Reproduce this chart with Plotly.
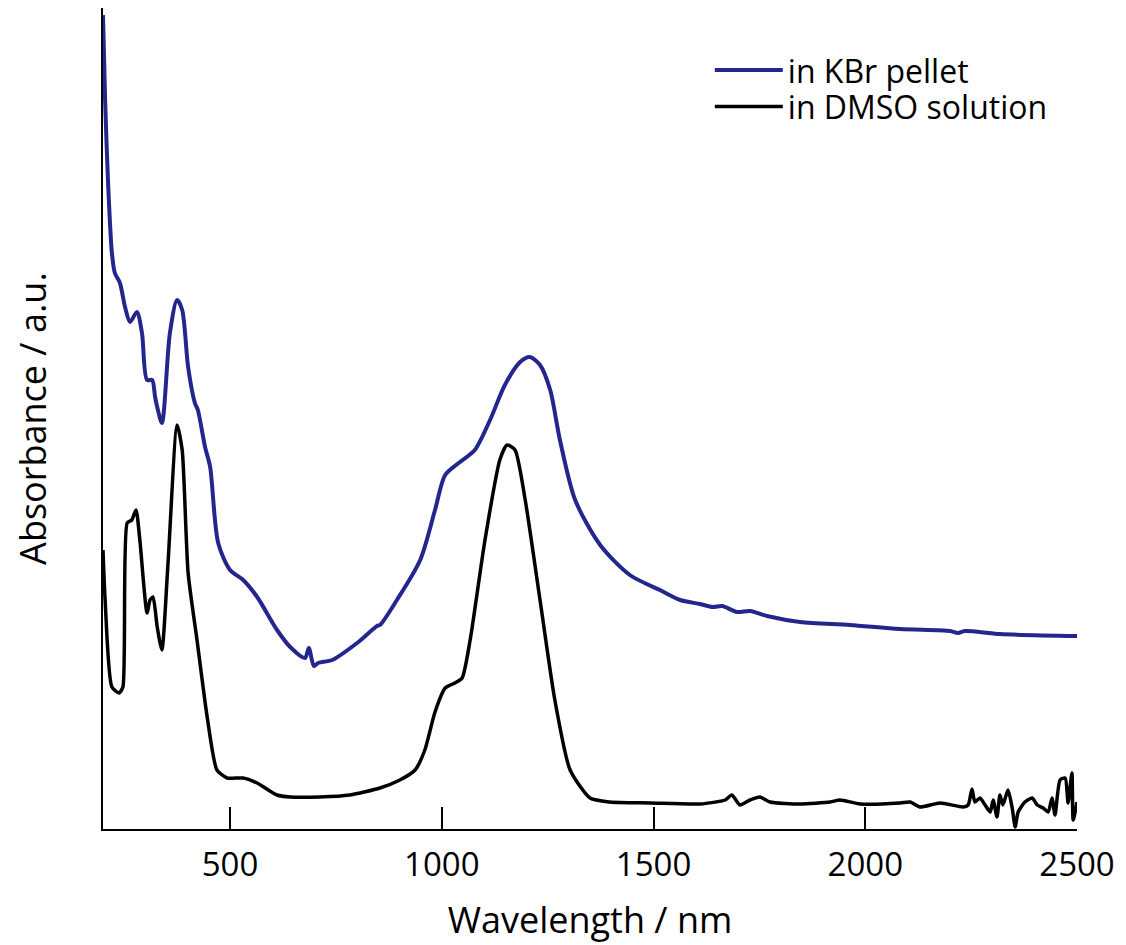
import plotly.graph_objects as go

# KBr pellet spectrum (wavelength nm, absorbance a.u.)
kbr_wl = [200, 205, 212, 221, 228, 240, 252, 264, 280, 292, 304, 316, 323, 328, 339,
          358, 375, 387, 401, 417, 424, 441, 453, 472, 500, 531, 564, 611, 642, 677,
          686, 698, 708, 741, 800, 847, 854, 894, 949, 984, 1008, 1043, 1078, 1114,
          1149, 1185, 1208, 1232, 1256, 1279, 1315, 1374, 1444, 1515, 1563, 1610,
          1640, 1662, 1697, 1728, 1768, 1846, 1964, 2082, 2200, 2219, 2235, 2318, 2500]
kbr_abs = [8.14, 7.29, 6.46, 5.76, 5.56, 5.46, 5.22, 5.07, 5.17, 4.96, 4.49, 4.49, 4.32, 4.22, 4.06,
           4.96, 5.29, 5.19, 4.62, 4.26, 4.19, 3.82, 3.62, 2.86, 2.59, 2.49, 2.32, 1.99, 1.82, 1.71,
           1.81, 1.63, 1.66, 1.69, 1.86, 2.03, 2.04, 2.29, 2.69, 3.19, 3.54, 3.67, 3.79, 4.09,
           4.44, 4.67, 4.72, 4.64, 4.39, 3.89, 3.29, 2.84, 2.54, 2.39, 2.29, 2.25,
           2.22, 2.23, 2.17, 2.18, 2.13, 2.07, 2.04, 2.00, 1.98, 1.96, 1.98, 1.95, 1.93]

# DMSO solution spectrum
dmso_wl = [200, 205, 221, 238, 247, 257, 268, 278, 287, 304, 311, 318, 328, 339, 353,
           375, 387, 401, 422, 446, 469, 493, 531, 564, 611, 642, 712, 783, 854, 901,
           937, 960, 984, 1008, 1031, 1048, 1067, 1102, 1137, 1154, 1173, 1197, 1232,
           1267, 1303, 1350, 1397, 1492, 1610, 1669, 1685, 1704, 1728, 1751, 1775, 1846,
           1917, 1940, 1988, 2082, 2106, 2129, 2177, 2231, 2243, 2252, 2259, 2271, 2283,
           2295, 2302, 2311, 2318, 2325, 2337, 2347, 2354, 2361, 2377, 2394, 2406, 2420,
           2432, 2441, 2448, 2460, 2472, 2479, 2488, 2491, 2500]
dmso_abs = [2.79, 2.29, 1.42, 1.36, 1.42, 3.06, 3.09, 3.19, 2.89, 2.16, 2.29, 2.32, 2.02, 1.79, 2.62,
            4.04, 3.79, 2.56, 1.89, 1.12, 0.59, 0.51, 0.51, 0.46, 0.34, 0.32, 0.32, 0.34, 0.41, 0.49,
            0.59, 0.79, 1.17, 1.41, 1.46, 1.51, 1.89, 2.89, 3.69, 3.84, 3.79, 3.29, 2.29,
            1.29, 0.59, 0.31, 0.27, 0.26, 0.25, 0.29, 0.34, 0.24, 0.29, 0.32, 0.27, 0.25,
            0.27, 0.29, 0.25, 0.26, 0.27, 0.22, 0.26, 0.22, 0.24, 0.40, 0.27, 0.31, 0.24,
            0.17, 0.29, 0.12, 0.34, 0.24, 0.39, 0.21, 0.02, 0.17, 0.27, 0.31, 0.24, 0.21,
            0.17, 0.31, 0.14, 0.49, 0.51, 0.26, 0.56, 0.09, 0.27]

x_ticks = [500, 1000, 1500, 2000, 2500]

FONT = "Open Sans"

fig = go.Figure()
fig.add_trace(go.Scatter(x=kbr_wl, y=kbr_abs, mode="lines", name="in KBr pellet",
                         line=dict(color="#23268c", width=4, shape="spline", smoothing=0.8),
                         legend="legend"))
fig.add_trace(go.Scatter(x=dmso_wl, y=dmso_abs, mode="lines", name="in DMSO solution",
                         line=dict(color="#000000", width=3.5, shape="spline", smoothing=0.6),
                         legend="legend2"))

leg_common = dict(xanchor="left", yanchor="top",
                  font=dict(family=FONT, size=32, color="black"),
                  bgcolor="rgba(0,0,0,0)", itemwidth=68)

fig.update_layout(
    width=1126, height=945,
    margin=dict(l=95, r=57, t=0, b=124, autoexpand=False),
    paper_bgcolor="white", plot_bgcolor="white",
    font=dict(family=FONT, color="black"),
    showlegend=True,
    legend=dict(x=0.623, y=0.9576, **leg_common),
    legend2=dict(x=0.623, y=0.9132, **leg_common),
    xaxis=dict(range=[200, 2500], tickvals=x_ticks, ticks="inside", ticklen=22,
               tickwidth=2, tickcolor="black", showline=True, linecolor="black",
               linewidth=2, showgrid=False, zeroline=False, automargin=False,
               ticklabelstandoff=5,
               tickfont=dict(family=FONT, size=33, color="black"),
               title=dict(text="Wavelength / nm", font=dict(family=FONT, size=36, color="black"),
                          standoff=23)),
    yaxis=dict(range=[0, 8.21], showticklabels=False, ticks="", showline=True,
               linecolor="black", linewidth=2, showgrid=False, zeroline=False,
               automargin=False,
               title=dict(text="Absorbance / a.u.", font=dict(family=FONT, size=36, color="black"),
                          standoff=63)),
)

fig.write_html("out.html")
